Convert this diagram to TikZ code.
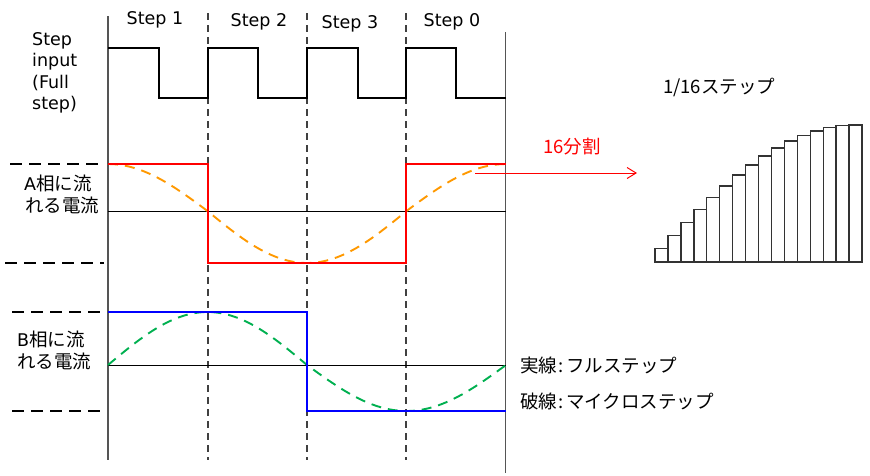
\documentclass[tikz,border=0pt]{standalone}
\usepackage{fontspec}
\setmainfont{DejaVu Sans}
\newfontfamily\jp{Noto Sans CJK JP}
\usetikzlibrary{arrows.meta}
\definecolor{curA}{HTML}{FF0000}
\definecolor{curB}{HTML}{0000FF}
\definecolor{microA}{HTML}{FF9900}
\definecolor{microB}{HTML}{00B050}
\definecolor{axisgray}{HTML}{555555}
\tikzset{
  lbl/.style={inner sep=0pt, anchor=base west, font=\fontsize{17.5}{20}\selectfont},
  jlbl/.style={inner sep=0pt, anchor=base west, font=\fontsize{18.5}{22}\jp},
  steplbl/.style={inner sep=0pt, anchor=base, font=\fontsize{17.5}{20}\selectfont},
  axis/.style={axisgray, line width=1.4pt},
  divider/.style={black!75, line width=1.3pt, dash pattern=on 7pt off 5pt},
  levelmark/.style={black, line width=1.4pt, dash pattern=on 12pt off 7pt},
  midline/.style={black, line width=1pt},
  pulse/.style={black, line width=2.1pt},
  fullA/.style={curA, line width=2.9pt},
  fullB/.style={curB, line width=2.9pt},
  microAline/.style={microA, line width=1.9pt, dash pattern=on 10pt off 7pt},
  microBline/.style={microB, line width=1.9pt, dash pattern=on 10pt off 7pt},
  bar/.style={draw=black!80, line width=1.4pt},
}
\begin{document}
\begin{tikzpicture}[x=1pt,y=-1pt]
\useasboundingbox (0,0) rectangle (870,475);
\fill[white] (0,0) rectangle (870,475);

% vertical axes and dividers
\draw[axis] (108,16) -- (108,460);
\draw[axis] (505.5,32) -- (505.5,473);
\draw[divider] (208,13) -- (208,460);
\draw[divider] (307,13) -- (307,460);
\draw[divider] (406,13) -- (406,460);

% step labels
\node[steplbl] (s1) at (155,24) {Step 1};
\node[steplbl] (s2) at (259,26) {Step 2};
\node[steplbl] (s3) at (350,28) {Step 3};
\node[steplbl] (s0) at (452,26) {Step 0};

% step input label
\node[lbl] (in1) at (32,45) {Step};
\node[lbl] (in2) at (32,66) {input};
\node[lbl] (in3) at (32,88) {(Full};
\node[lbl] (in4) at (32,109) {step)};

% step input pulse train
\draw[pulse] (108,48) -- (159,48) -- (159,98) -- (208,98) -- (208,48) -- (258,48) -- (258,98)
  -- (307,98) -- (307,48) -- (358,48) -- (358,98) -- (406,98) -- (406,48) -- (456,48)
  -- (456,98) -- (506,98);

% ---- A phase ----
\draw[levelmark] (10,164) -- (104,164);
\draw[levelmark] (5,263) -- (104,263);
\draw[midline] (108,211) -- (506,211);
\node[jlbl] (la1) at (24,190) {{\rmfamily\fontsize{17.5}{20}\selectfont A}相に流};
\node[jlbl] (la2) at (25,212) {れる電流};
\draw[microAline] plot[domain=0:398, samples=120]
  (108+\x, {211 - 47*max(cos(0.904523*\x),0) - 52*min(cos(0.904523*\x),0)});
\draw[fullA] (108,164) -- (208,164) -- (208,263) -- (406,263) -- (406,164) -- (506,164);

% 16 division arrow
\coordinate (arrS) at (475,173);
\coordinate (arrE) at (637,173);
\draw[curA, line width=1pt, -{Straight Barb[length=9pt,width=11pt]}] (arrS) -- (arrE);
\node[inner sep=0pt, anchor=base west, text=curA, font=\fontsize{18.5}{22}\jp] (div) at (543,153) {16分割};

% ---- B phase ----
\draw[levelmark] (12,312) -- (106,312);
\draw[levelmark] (12,411) -- (106,411);
\draw[midline] (108,365) -- (506,365);
\node[jlbl] (lb1) at (17,346) {{\rmfamily\fontsize{17.5}{20}\selectfont B}相に流};
\node[jlbl] (lb2) at (17,368) {れる電流};
\draw[microBline] plot[domain=0:398, samples=120]
  (108+\x, {365 - 53*max(sin(0.904523*\x),0) - 46*min(sin(0.904523*\x),0)});
\draw[fullB] (108,312) -- (307,312) -- (307,411) -- (506,411);

% legend
\node[jlbl] (leg1) at (520,372) {実線\kern1pt:\kern3pt フルステップ};
\node[jlbl] (leg2) at (520,408) {破線\kern1pt:\kern3pt マイクロステップ};

% 1/16 step staircase
\node[jlbl] (t16) at (663,93) {1/16ステップ};
\foreach \k in {1,...,16} {
  \pgfmathsetmacro{\xa}{655+(\k-1)*12.94}
  \pgfmathsetmacro{\xb}{655+\k*12.94}
  \pgfmathsetmacro{\yt}{262-137*sin(\k*180/32)}
  \draw[bar] (\xa,262) rectangle (\xb,\yt);
}
\end{tikzpicture}
\end{document}
